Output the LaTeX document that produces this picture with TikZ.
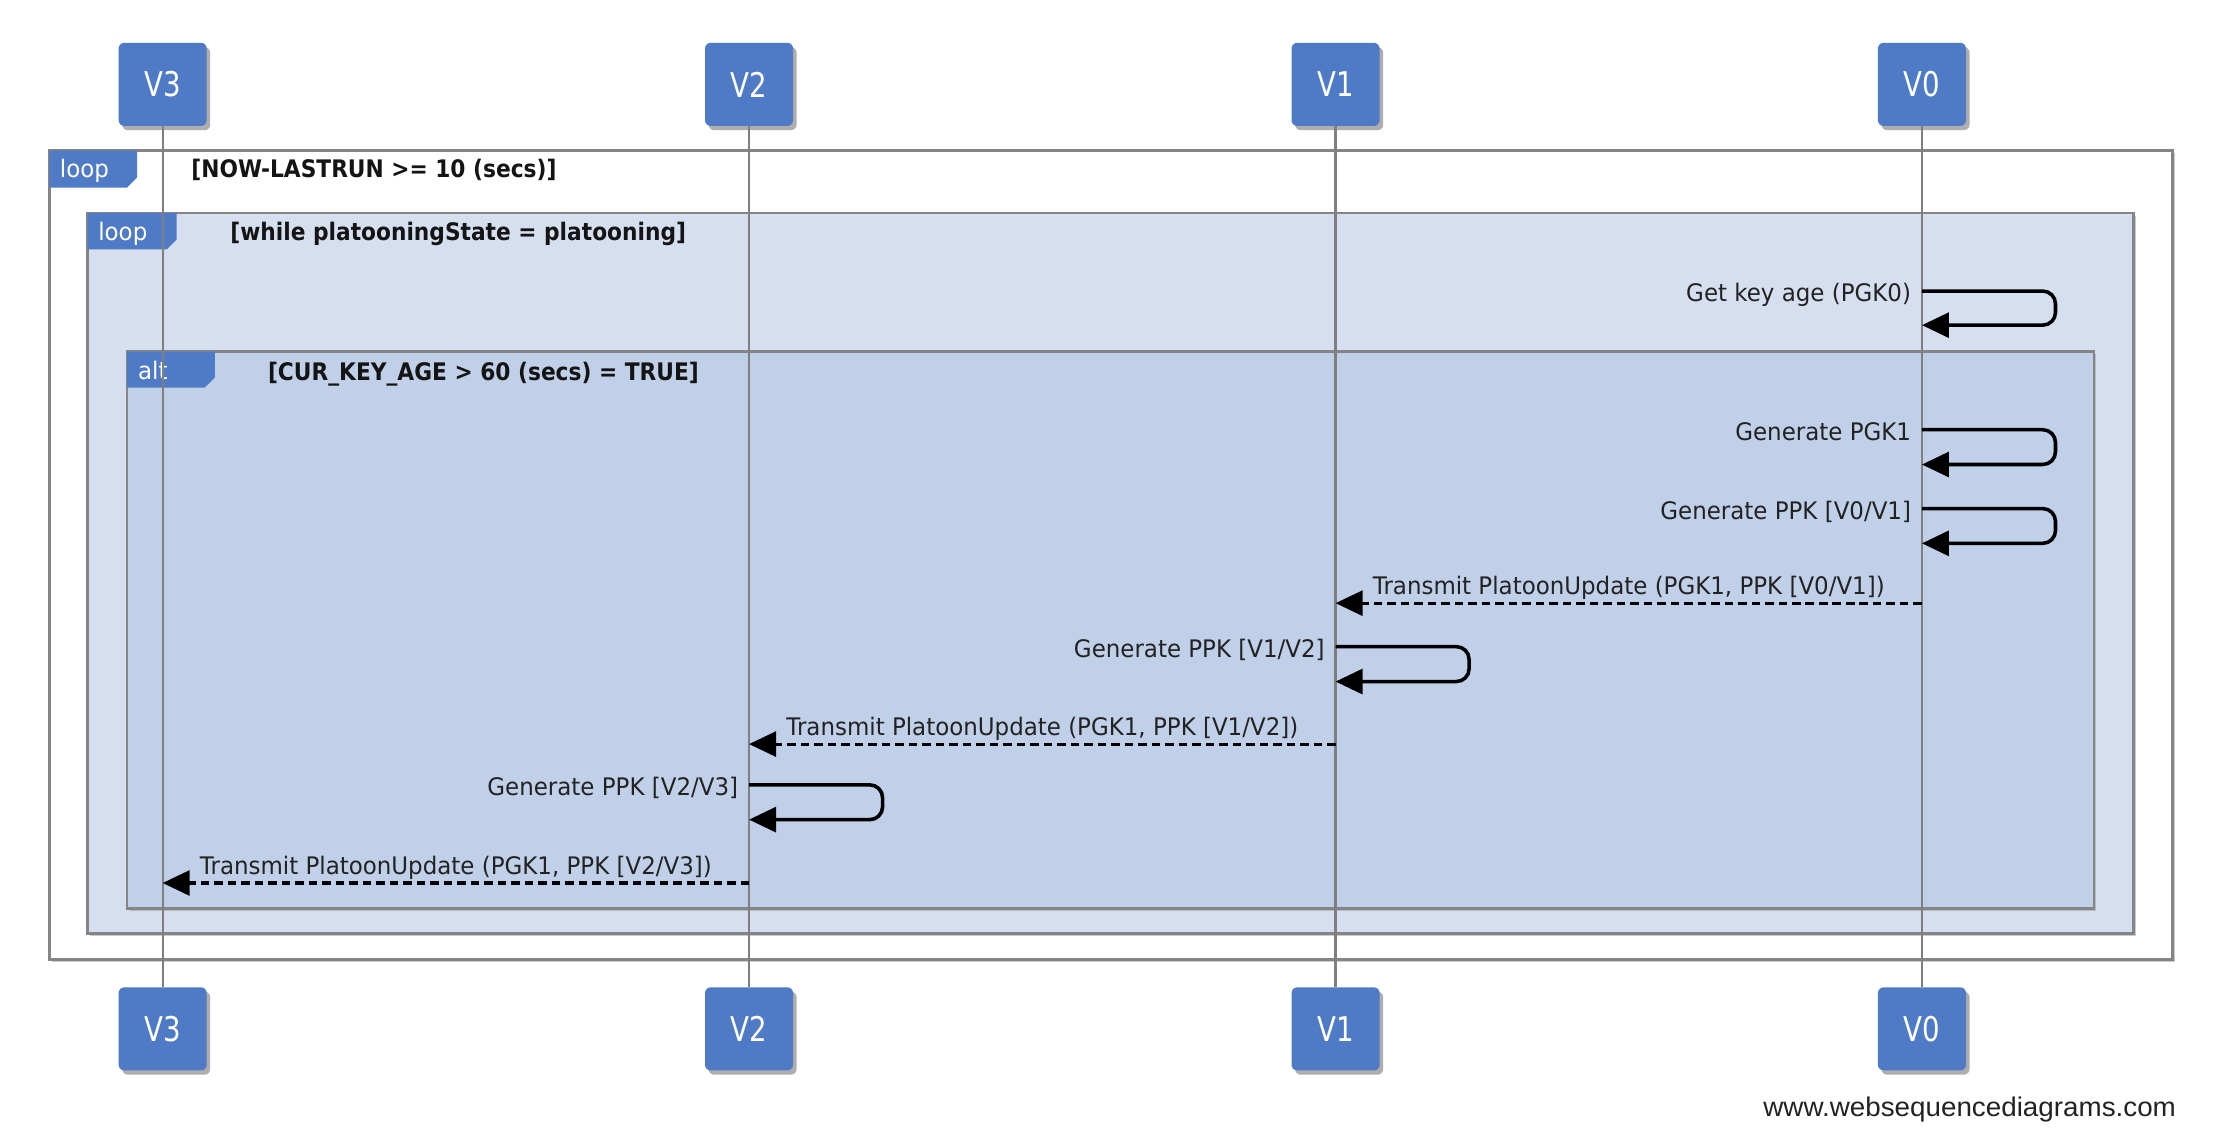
\documentclass[tikz,border=0pt]{standalone}
\usepackage{fontspec}
\usetikzlibrary{arrows.meta,shadows}
\newfontfamily\msgfont[FakeStretch=0.95]{DejaVu Sans}
\newfontfamily\condfont[FakeStretch=0.9]{DejaVu Sans}
\newfontfamily\boxfont[FakeStretch=0.81]{DejaVu Sans}
\newfontfamily\wmfont[FakeStretch=1.03]{Liberation Sans}
\definecolor{boxblue}{HTML}{4F7AC5}
\definecolor{loopfill}{HTML}{D6DFF0}
\definecolor{altfill}{HTML}{C1D0E9}
\definecolor{framegray}{HTML}{858585}
\definecolor{lifegray}{HTML}{7F7F7F}
\definecolor{txt}{HTML}{222222}
\begin{document}
\begin{tikzpicture}[x=1pt,y=-1pt,
 actor/.style={rectangle, rounded corners=4pt, fill=boxblue, minimum width=62pt, minimum height=58.5pt, inner sep=0pt, text=white, font=\boxfont\fontsize{24}{27}\selectfont, drop shadow={shadow xshift=2.5pt, shadow yshift=-3pt, opacity=0.45, fill=black!70}},
 frame/.style={draw=framegray, line width=1.8pt, drop shadow={shadow xshift=1.8pt, shadow yshift=-1.8pt, opacity=0.5, fill=black!40}},
 tablabel/.style={anchor=base west, inner sep=0pt, text=white, font=\msgfont\fontsize{17}{20}\selectfont},
 cond/.style={anchor=base west, inner sep=0pt, text=black!92, font=\condfont\bfseries\fontsize{17}{20}\selectfont},
 lifeline/.style={draw=lifegray, line width=1.6pt},
 selfmsg/.style={draw=black, line width=2.5pt, rounded corners=9pt, -{Triangle[length=19pt,width=17.5pt,sharp]}},
 dmsg/.style={draw=black, line width=2.2pt, dash pattern=on 6pt off 3.5pt, -{Triangle[length=19pt,width=17.5pt,sharp]}},
 msglabel/.style={inner sep=0pt, text=txt, font=\msgfont\fontsize{17}{20}\selectfont},
 wm/.style={inner sep=0pt, text=txt, font=\wmfont\fontsize{19}{22}\selectfont},
]
\useasboundingbox[fill=white] (0,0) rectangle (1560,806.7);

% frames
\path[frame, fill=white] (34.8,106.1) rectangle (1529.3,675.5);
\path[frame, fill=loopfill] (61.7,150) rectangle (1501.8,657);
\path[frame, fill=altfill] (89.5,247.6) rectangle (1474,639.4);

% tabs
\fill[boxblue] (34.8,106.1) -- (96.5,106.1) -- (96.5,125) -- (89.5,132) -- (34.8,132) -- cycle;
\fill[boxblue] (61.7,150) -- (124.4,150) -- (124.4,168.5) -- (117.4,175.5) -- (61.7,175.5) -- cycle;
\fill[boxblue] (89.5,247.6) -- (151.2,247.6) -- (151.2,265.8) -- (144.2,272.8) -- (89.5,272.8) -- cycle;
\node[tablabel] (tab1) at (42,125) {loop};
\node[tablabel] (tab2) at (69,169) {loop};
\node[tablabel] (tab3) at (97,267.5) {alt};
\node[cond] (c1) at (134.6,125) {[NOW-LASTRUN >= 10 (secs)]};
\node[cond] (c2) at (162,169.5) {[while platooningState = platooning]};
\node[cond] (c3) at (188.5,268) {[CUR\_KEY\_AGE > 60 (secs) = TRUE]};

% actors
\node[actor] (t3) at (114.5,59.4) {V3};
\node[actor] (t2) at (527.3,59.4) {V2};
\node[actor] (t1) at (940.2,59.4) {V1};
\node[actor] (t0) at (1353,59.4) {V0};
\node[actor] (b3) at (114.5,724.3) {V3};
\node[actor] (b2) at (527.3,724.3) {V2};
\node[actor] (b1) at (940.2,724.3) {V1};
\node[actor] (b0) at (1353,724.3) {V0};

% lifelines
\draw[lifeline] (t3.south) -- (b3.north);
\draw[lifeline] (t2.south) -- (b2.north);
\draw[lifeline] (t1.south) -- (b1.north);
\draw[lifeline] (t0.south) -- (b0.north);

% message anchor points
\coordinate (s1a) at (t0 |- 0,204.9);
\coordinate (s1b) at (t0 |- 0,228.9);
\coordinate (s2a) at (t0 |- 0,302.5);
\coordinate (s2b) at (t0 |- 0,327);
\coordinate (s3a) at (t0 |- 0,358);
\coordinate (s3b) at (t0 |- 0,382.5);
\coordinate (d1a) at (t0 |- 0,424.6);
\coordinate (d1b) at (t1 |- 0,424.6);
\coordinate (s4a) at (t1 |- 0,455.2);
\coordinate (s4b) at (t1 |- 0,479.8);
\coordinate (d2a) at (t1 |- 0,523.8);
\coordinate (d2b) at (t2 |- 0,523.8);
\coordinate (s5a) at (t2 |- 0,552.5);
\coordinate (s5b) at (t2 |- 0,577);
\coordinate (d3a) at (t2 |- 0,621.6);
\coordinate (d3b) at (t3 |- 0,621.6);

% self messages
\draw[selfmsg] (s1a) -- ++(94,0) -- ++(0,24) -- (s1b);
\draw[selfmsg] (s2a) -- ++(94,0) -- ++(0,24.5) -- (s2b);
\draw[selfmsg] (s3a) -- ++(94,0) -- ++(0,24.5) -- (s3b);
\draw[selfmsg] (s4a) -- ++(94,0) -- ++(0,24.6) -- (s4b);
\draw[selfmsg] (s5a) -- ++(94,0) -- ++(0,24.5) -- (s5b);
\node[msglabel, anchor=base east] (l1) at ([xshift=-7.5pt,yshift=-7.5pt]s1a) {Get key age (PGK0)};
\node[msglabel, anchor=base east] (l2) at ([xshift=-7.5pt,yshift=-7.5pt]s2a) {Generate PGK1};
\node[msglabel, anchor=base east] (l3) at ([xshift=-7.5pt,yshift=-7.5pt]s3a) {Generate PPK [V0/V1]};
\node[msglabel, anchor=base east] (l4) at ([xshift=-7.5pt,yshift=-7.5pt]s4a) {Generate PPK [V1/V2]};
\node[msglabel, anchor=base east] (l5) at ([xshift=-7.5pt,yshift=-7.5pt]s5a) {Generate PPK [V2/V3]};

% transmit messages
\draw[dmsg] (d1a) -- node[msglabel, anchor=base, yshift=6pt] (l6) {Transmit PlatoonUpdate (PGK1, PPK [V0/V1])} (d1b);
\draw[dmsg] (d2a) -- node[msglabel, anchor=base, yshift=6pt] (l7) {Transmit PlatoonUpdate (PGK1, PPK [V1/V2])} (d2b);
\draw[dmsg] (d3a) -- node[msglabel, anchor=base, yshift=6pt] (l8) {Transmit PlatoonUpdate (PGK1, PPK [V2/V3])} (d3b);

% watermark
\node[wm, anchor=base east] (wmk) at (1532,786) {www.websequencediagrams.com};
\end{tikzpicture}
\end{document}
